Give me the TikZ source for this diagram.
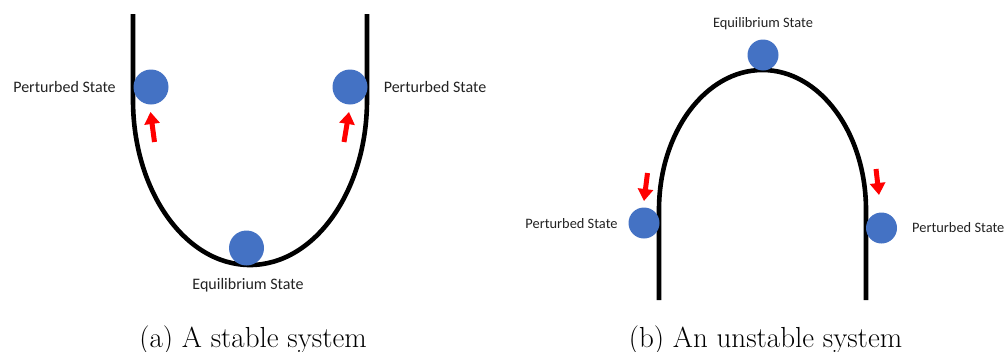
\documentclass[tikz,border=0pt]{standalone}
\usepackage{fontspec}
\newfontfamily\calib{Carlito}
\usetikzlibrary{arrows.meta}
\definecolor{ballblue}{HTML}{4472C4}
\definecolor{txtgray}{HTML}{222222}
\tikzset{
  ballA/.style={circle,fill=ballblue,minimum size=35pt,inner sep=0pt},
  ballB/.style={circle,fill=ballblue,minimum size=31pt,inner sep=0pt},
  curve/.style={line width=4.6pt,black},
  redarrow/.style={draw=red,line width=5pt,-{Triangle[length=12pt,width=15pt]}},
  lblA/.style={font=\calib\fontsize{16}{18}\selectfont,text=txtgray,anchor=base,inner sep=0pt},
  lblB/.style={font=\calib\fontsize{14.4}{16}\selectfont,text=txtgray,anchor=base,inner sep=0pt},
  capt/.style={font=\fontsize{29}{32}\selectfont,anchor=base,inner sep=0pt}
}
\begin{document}
\begin{tikzpicture}[x=1pt,y=-1pt]
\useasboundingbox (0,0) rectangle (1004,351);
% (a) stable
\draw[curve] (133,14) -- (133,100) arc[start angle=180,end angle=360,x radius=117pt,y radius=165pt] -- (367,14);
\node[ballA] (pa1) at (151,87) {};
\node[ballA] (pa2) at (350,87) {};
\node[ballA] (ea) at (246.5,248) {};
\coordinate (a1s) at (154.5,142);
\coordinate (a1e) at (150.5,112);
\coordinate (a2s) at (344,142);
\coordinate (a2e) at (349,112);
\draw[redarrow] (a1s) -- (a1e);
\draw[redarrow] (a2s) -- (a2e);
\node[lblA] (tpa1) at (64.5,92.5) {Perturbed State};
\node[lblA] (tpa2) at (435,92.5) {Perturbed State};
\node[lblA] (tea) at (248,289) {Equilibrium State};
% (b) unstable
\draw[curve] (659,300) -- (659,210) arc[start angle=180,end angle=0,x radius=103.5pt,y radius=140pt] -- (866,300);
\node[ballB] (eb) at (763,55) {};
\node[ballB] (pb1) at (644,223) {};
\node[ballB] (pb2) at (881.5,228) {};
\coordinate (b1s) at (647.5,173);
\coordinate (b1e) at (644,201);
\coordinate (b2s) at (876,169);
\coordinate (b2e) at (879,195);
\draw[redarrow] (b1s) -- (b1e);
\draw[redarrow] (b2s) -- (b2e);
\node[lblB] (teb) at (763,27.5) {Equilibrium State};
\node[lblB] (tpb1) at (571.5,228.5) {Perturbed State};
\node[lblB,anchor=base west] (tpb2) at (912,232.5) {Perturbed State};
% captions
\node[capt] (ca) at (253,347) {(a) A stable system};
\node[capt] (cb) at (765.5,347) {(b) An unstable system};
\end{tikzpicture}
\end{document}
